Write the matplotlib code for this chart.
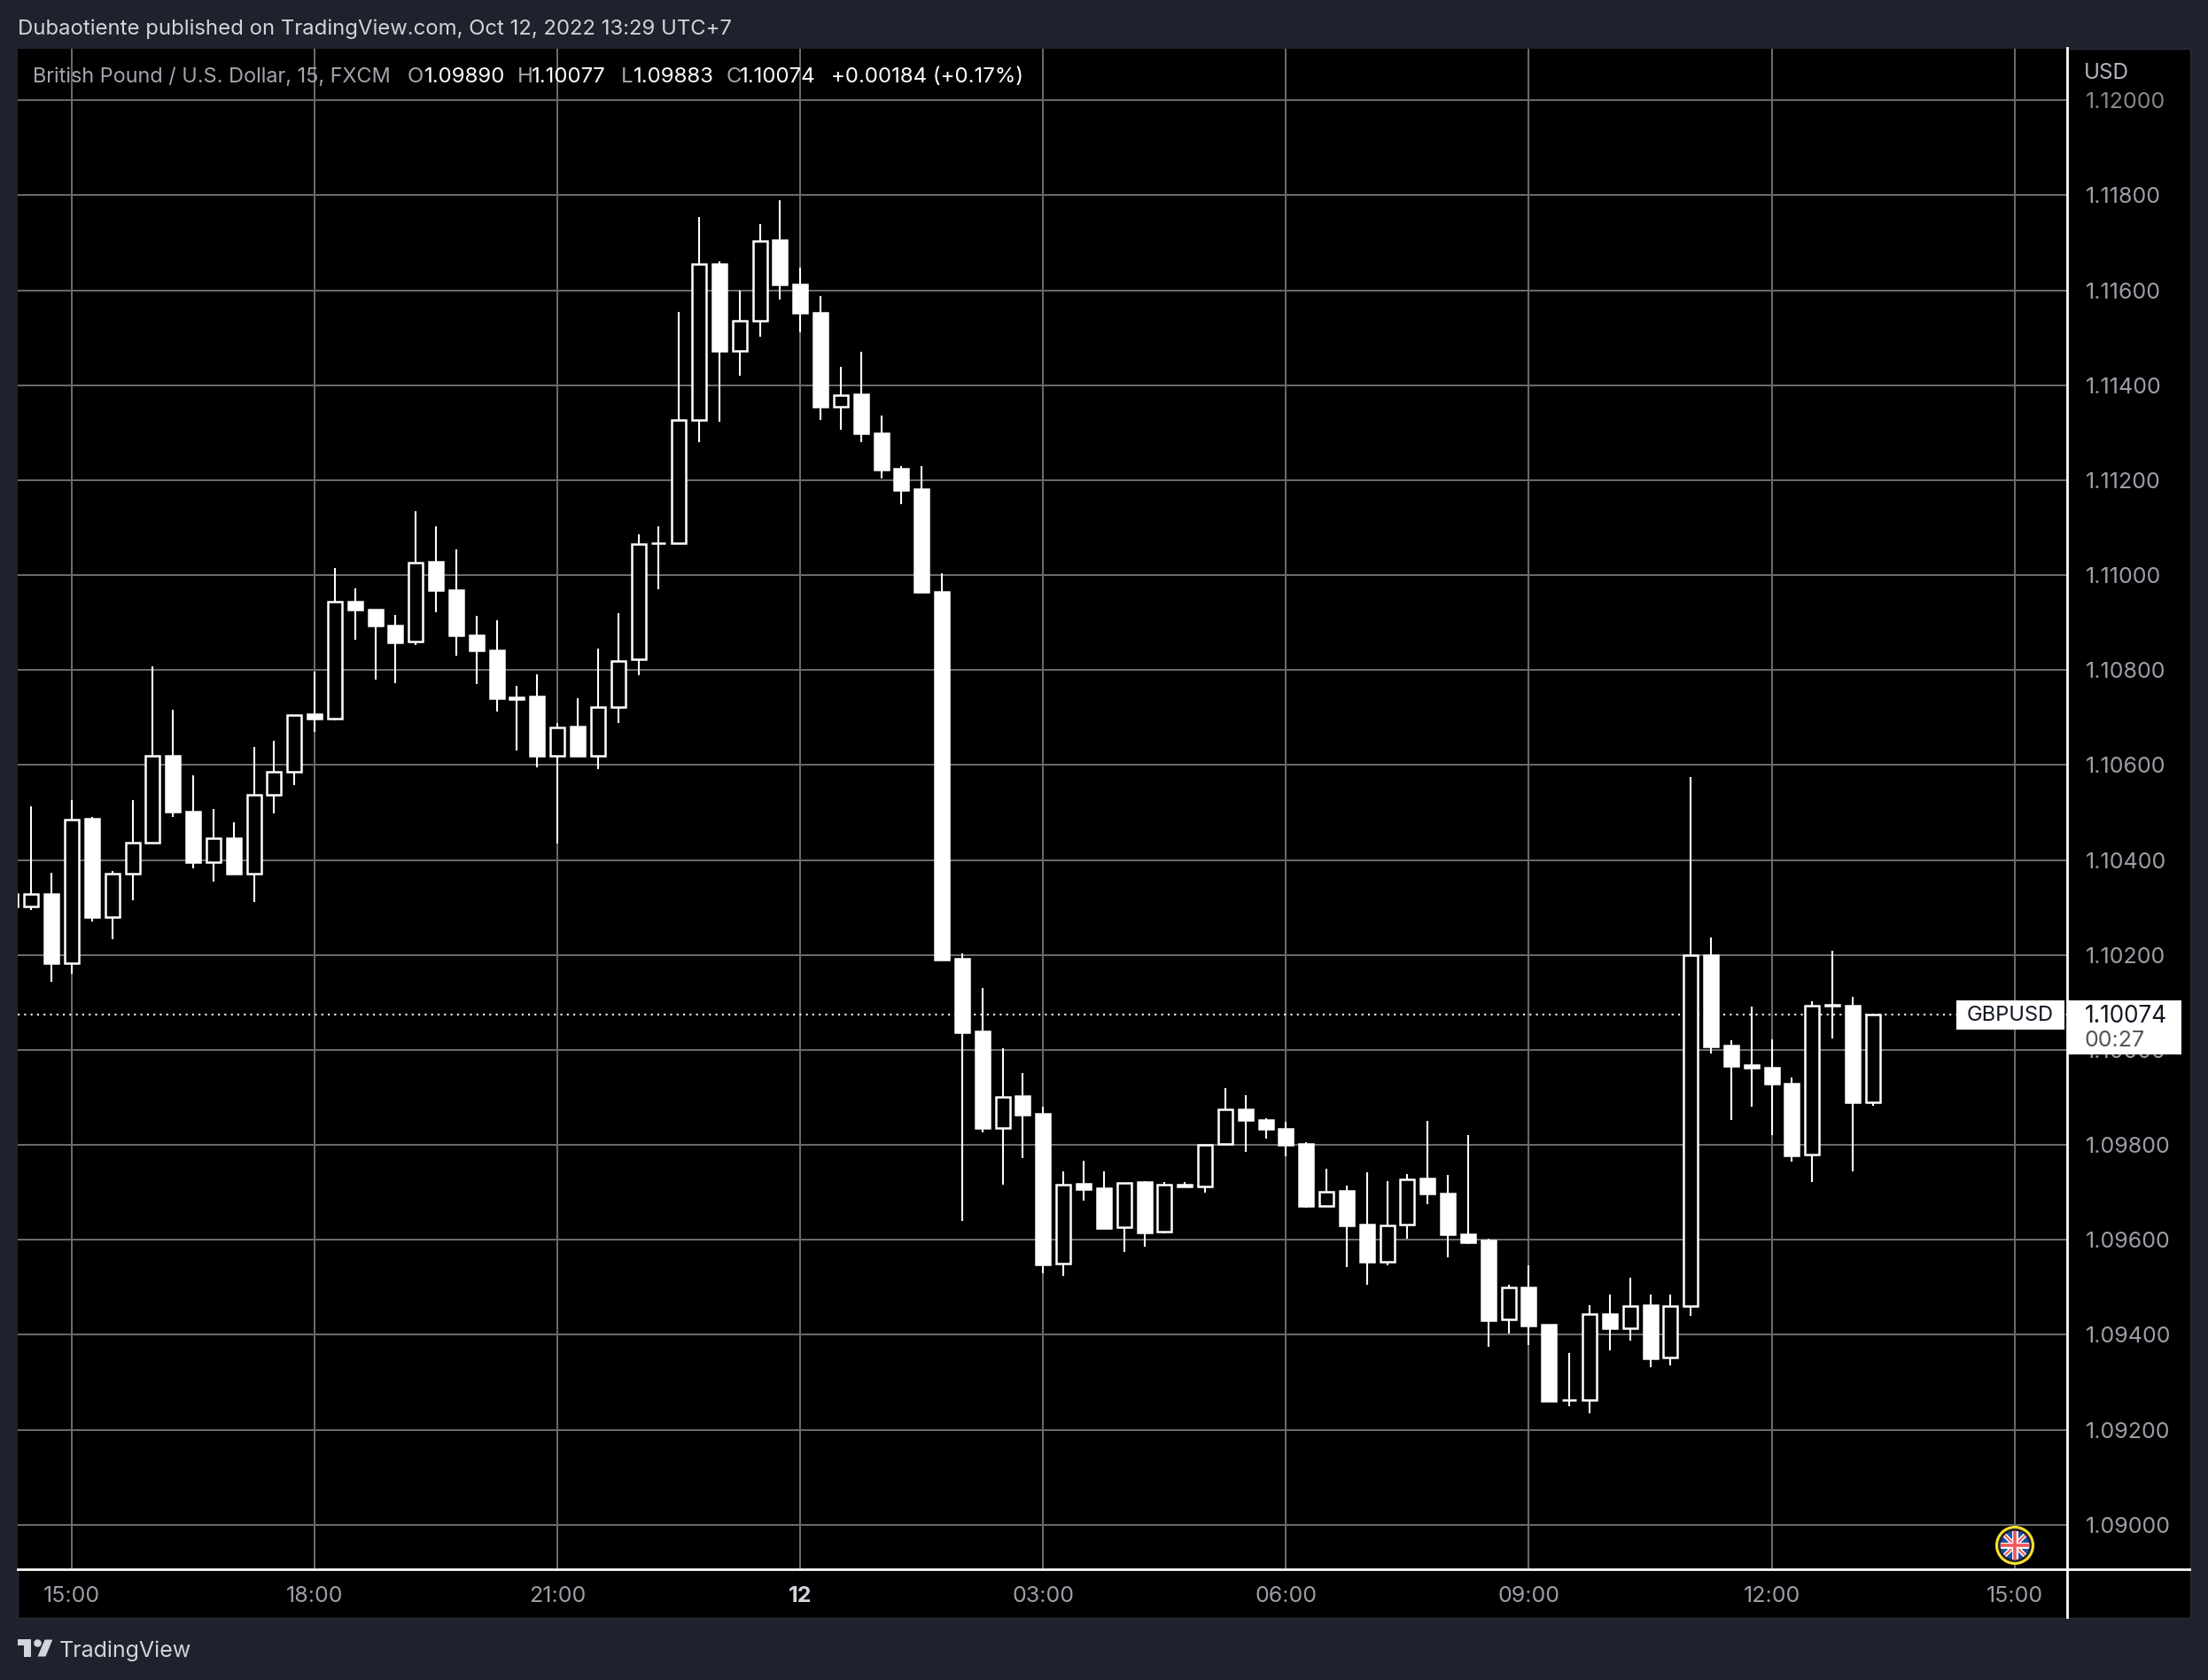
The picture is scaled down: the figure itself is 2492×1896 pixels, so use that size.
import matplotlib
matplotlib.use("Agg")
import matplotlib.pyplot as plt
from matplotlib.patches import Rectangle, Polygon, Circle

# ---- data -----------------------------------------------------------------
first_bar = -3   # bar index of first value; bar 0 is the 15:00 gridline
opens = [1.10302, 1.10302, 1.10329, 1.10183, 1.10487, 1.10279, 1.10371, 1.10436, 1.10619, 1.10502,
         1.10395, 1.10446, 1.10372, 1.10538, 1.10585, 1.10708, 1.10697, 1.10945, 1.10927, 1.10894,
         1.10860, 1.11028, 1.10968, 1.10874, 1.10841, 1.10743, 1.10744, 1.10620, 1.10681, 1.10620,
         1.10722, 1.10822, 1.11067, 1.11068, 1.11327, 1.11656, 1.11472, 1.11535, 1.11705, 1.11613,
         1.11552, 1.11354, 1.11380, 1.11298, 1.11224, 1.11181, 1.10964, 1.10192, 1.10039, 1.09836,
         1.09903, 1.09866, 1.09550, 1.09718, 1.09709, 1.09626, 1.09721, 1.09617, 1.09716, 1.09712,
         1.09802, 1.09875, 1.09853, 1.09834, 1.09802, 1.09672, 1.09703, 1.09632, 1.09554, 1.09632,
         1.09730, 1.09698, 1.09612, 1.09598, 1.09432, 1.09500, 1.09422, 1.09262, 1.09263, 1.09444,
         1.09414, 1.09463, 1.09352, 1.09461, 1.10200, 1.10010, 1.09968, 1.09963, 1.09929, 1.09779,
         1.10094, 1.10093, 1.09890]
highs = [1.10335, 1.10513, 1.10374, 1.10527, 1.10491, 1.10377, 1.10527, 1.10808, 1.10717, 1.10579,
         1.10508, 1.10480, 1.10639, 1.10652, 1.10706, 1.10797, 1.11015, 1.10973, 1.10927, 1.10917,
         1.11135, 1.11103, 1.11055, 1.10914, 1.10905, 1.10767, 1.10791, 1.10688, 1.10740, 1.10845,
         1.10919, 1.11086, 1.11103, 1.11555, 1.11755, 1.11661, 1.11600, 1.11739, 1.11790, 1.11648,
         1.11589, 1.11438, 1.11470, 1.11336, 1.11230, 1.11230, 1.11004, 1.10204, 1.10131, 1.10004,
         1.09952, 1.09881, 1.09744, 1.09767, 1.09744, 1.09720, 1.09723, 1.09722, 1.09722, 1.09801,
         1.09920, 1.09905, 1.09856, 1.09849, 1.09806, 1.09750, 1.09715, 1.09743, 1.09724, 1.09738,
         1.09851, 1.09737, 1.09820, 1.09603, 1.09505, 1.09547, 1.09422, 1.09362, 1.09463, 1.09484,
         1.09521, 1.09484, 1.09484, 1.10575, 1.10237, 1.10021, 1.10092, 1.10023, 1.09942, 1.10102,
         1.10209, 1.10112, 1.10077]
lows = [1.10295, 1.10294, 1.10143, 1.10161, 1.10270, 1.10234, 1.10316, 1.10434, 1.10490, 1.10383,
        1.10354, 1.10372, 1.10311, 1.10499, 1.10557, 1.10669, 1.10695, 1.10864, 1.10780, 1.10773,
        1.10853, 1.10921, 1.10830, 1.10770, 1.10713, 1.10630, 1.10595, 1.10435, 1.10620, 1.10592,
        1.10689, 1.10789, 1.10970, 1.11066, 1.11280, 1.11324, 1.11420, 1.11503, 1.11581, 1.11512,
        1.11326, 1.11306, 1.11280, 1.11203, 1.11149, 1.10964, 1.10191, 1.09639, 1.09826, 1.09717,
        1.09773, 1.09529, 1.09523, 1.09682, 1.09625, 1.09574, 1.09585, 1.09613, 1.09712, 1.09700,
        1.09802, 1.09786, 1.09813, 1.09775, 1.09668, 1.09672, 1.09543, 1.09505, 1.09546, 1.09603,
        1.09675, 1.09563, 1.09591, 1.09374, 1.09403, 1.09379, 1.09260, 1.09250, 1.09234, 1.09368,
        1.09388, 1.09331, 1.09335, 1.09439, 1.09993, 1.09852, 1.09881, 1.09820, 1.09764, 1.09721,
        1.10024, 1.09745, 1.09883]
closes = [1.10329, 1.10328, 1.10182, 1.10486, 1.10279, 1.10371, 1.10436, 1.10619, 1.10501, 1.10395,
          1.10445, 1.10372, 1.10538, 1.10585, 1.10706, 1.10697, 1.10945, 1.10927, 1.10893, 1.10859,
          1.11026, 1.10968, 1.10873, 1.10841, 1.10741, 1.10739, 1.10620, 1.10679, 1.10620, 1.10722,
          1.10819, 1.11066, 1.11067, 1.11326, 1.11656, 1.11472, 1.11535, 1.11704, 1.11612, 1.11552,
          1.11354, 1.11379, 1.11298, 1.11222, 1.11180, 1.10964, 1.10191, 1.10038, 1.09836, 1.09901,
          1.09864, 1.09549, 1.09717, 1.09707, 1.09625, 1.09720, 1.09616, 1.09716, 1.09712, 1.09801,
          1.09874, 1.09852, 1.09833, 1.09801, 1.09672, 1.09702, 1.09631, 1.09553, 1.09631, 1.09728,
          1.09697, 1.09611, 1.09595, 1.09431, 1.09499, 1.09420, 1.09261, 1.09262, 1.09443, 1.09413,
          1.09461, 1.09350, 1.09460, 1.10199, 1.10007, 1.09966, 1.09962, 1.09928, 1.09778, 1.10094,
          1.10095, 1.09890, 1.10074]
price_ticks = [1.09 + 0.002 * k for k in range(16)]
time_ticks = [0, 12, 24, 36, 48, 60, 72, 84, 96]
time_labels = ["15:00", "18:00", "21:00", "12", "03:00", "06:00", "09:00", "12:00", "15:00"]
last_price = 1.10074

# ---- layout ---------------------------------------------------------------
W, H = 2492, 1896
BG = "#1e222d"
GRID = "#6a6a6a"
AXTXT = "#9b9ea6"
FONT = "Inter"
plt.rcParams["font.family"] = [FONT, "DejaVu Sans"]
PX_PRICE = 53580.0
PX_BAR = 22.84
L, R, T, B = 20, 2333, 54.5, 1770.7

fig = plt.figure(figsize=(W / 100, H / 100), dpi=100, facecolor=BG)

def px_axes(z):
    a = fig.add_axes([0, 0, 1, 1], zorder=z)
    a.set_xlim(0, W)
    a.set_ylim(H, 0)
    a.axis("off")
    a.patch.set_alpha(0)
    return a

under = px_axes(0)
under.add_patch(Rectangle((20, 54.5), 2451.5, 1771, fc="black", ec="#2a2e39", lw=1))

ax = fig.add_axes([L / W, 1 - B / H, (R - L) / W, (B - T) / H], zorder=1, facecolor="black")
ax.set_xlim((L - 81) / PX_BAR, (R - 81) / PX_BAR)
ax.set_ylim(1.09 - (B - 1720.7) / PX_PRICE, 1.09 + (1720.7 - T) / PX_PRICE)
ax.set_yticks(price_ticks)
ax.set_yticklabels([f"{p:.5f}" for p in price_ticks])
ax.yaxis.tick_right()
ax.set_xticks(time_ticks)
ax.set_xticklabels(time_labels)
ax.tick_params(axis="both", length=0, labelcolor=AXTXT, labelsize=18)
ax.tick_params(axis="y", pad=15)
ax.tick_params(axis="x", pad=14)
for lab, txt in zip(ax.get_xticklabels(), time_labels):
    if txt == "12":
        lab.set_fontweight("bold")
        lab.set_color("#d1d4dc")
ax.get_yticklabels()[-1].set_color("#85878c")
ax.grid(True, color=GRID, lw=1.44, zorder=0)
ax.set_axisbelow(True)
for s in ["top", "left"]:
    ax.spines[s].set_visible(False)
for s in ["right", "bottom"]:
    ax.spines[s].set_color("white")
    ax.spines[s].set_linewidth(2.0)

# candles
idx = [first_bar + k for k in range(len(opens))]
ax.vlines(idx, lows, highs, color="white", lw=1.5, zorder=3)
bottoms = [min(o, c) for o, c in zip(opens, closes)]
heights = [abs(o - c) for o, c in zip(opens, closes)]
fills = ["white" if c < o else "black" for o, c in zip(opens, closes)]
ax.bar(idx, heights, bottom=bottoms, width=16 / PX_BAR, color=fills, edgecolor="white",
       linewidth=1.8, zorder=4)
ax.axhline(last_price, color="white", lw=1.5, ls=(0, (1, 2.5)), zorder=2)

# overlay chrome
top = px_axes(2)
top.plot([R, R], [B, 1825], color="white", lw=2.0)
top.plot([R, 2471], [B, B], color="white", lw=2.0)
top.add_patch(Rectangle((2208, 1128.5), 122, 33, fc="white", ec="none"))
top.add_patch(Rectangle((2334, 1128.5), 127.5, 61, fc="white", ec="none"))
top.text(2269, 1146.5, "GBPUSD", color="#131722", fontsize=17, ha="center", va="center")
top.text(2353, 1146.5, "1.10074", color="#131722", fontsize=18.8, ha="left", va="center")
top.text(2352, 1174.5, "00:27", color="#555555", fontsize=18, ha="left", va="center")
top.text(2352, 82, "USD", color="#b2b5be", fontsize=17.5, ha="left", va="center")

# header text
top.text(20, 32.5, "Dubaotiente published on TradingView.com, Oct 12, 2022 13:29 UTC+7",
         color="#d1d4dc", fontsize=17.2, ha="left", va="center")
LEG = "#a3a6af"
top.text(37, 87, "British Pound / U.S. Dollar, 15, FXCM", color=LEG, fontsize=16.9, ha="left", va="center")
for x, s, c in [(460, "O", LEG), (479, "1.09890", "white"),
                (584, "H", LEG), (600, "1.10077", "white"),
                (701, "L", LEG), (715, "1.09883", "white"),
                (820, "C", LEG), (835, "1.10074", "white"),
                (938, "+0.00184 (+0.17%)", "white")]:
    top.text(x, 87, s, color=c, fontsize=17.3, ha="left", va="center")

# brand mark
LOGO = "#d1d4dc"
top.add_patch(Polygon([(20, 1850), (35, 1850), (35, 1869.5), (26.7, 1869.5), (26.7, 1857.3), (20, 1857.3)], fc=LOGO, ec="none"))
top.add_patch(Circle((42.5, 1854.5), 4.3, fc=LOGO, ec="none"))
top.add_patch(Polygon([(50.5, 1850.5), (59.3, 1850.5), (51.5, 1869.5), (42.5, 1869.5)], fc=LOGO, ec="none"))
top.text(67, 1863.5, "TradingView", color=LOGO, fontsize=18, ha="left", va="center")

# flag
cx, cy = 2274, 1744
top.add_patch(Circle((cx, cy), 20.5, fc="#1e222d", ec="#fde02b", lw=2.2, zorder=5))
clip = Circle((cx, cy), 16.3, fc="#1f4fa3", ec="none", zorder=6)
top.add_patch(clip)
r = 17
for (dx, dy) in [(1, 1), (1, -1)]:
    l1, = top.plot([cx - r * dx, cx + r * dx], [cy - r * dy, cy + r * dy], color="white", lw=3.6, zorder=7, solid_capstyle="butt")
    l2, = top.plot([cx - r * dx, cx + r * dx], [cy - r * dy, cy + r * dy], color="#f0565a", lw=1.4, zorder=8, solid_capstyle="butt")
    l1.set_clip_path(clip); l2.set_clip_path(clip)
for xs, ys in [([cx - r, cx + r], [cy, cy]), ([cx, cx], [cy - r, cy + r])]:
    l1, = top.plot(xs, ys, color="white", lw=5, zorder=9, solid_capstyle="butt")
    l2, = top.plot(xs, ys, color="#f0565a", lw=2.6, zorder=10, solid_capstyle="butt")
    l1.set_clip_path(clip); l2.set_clip_path(clip)
top.set_xlim(0, W)
top.set_ylim(H, 0)

fig.savefig("out.png", dpi=100, facecolor=BG)
